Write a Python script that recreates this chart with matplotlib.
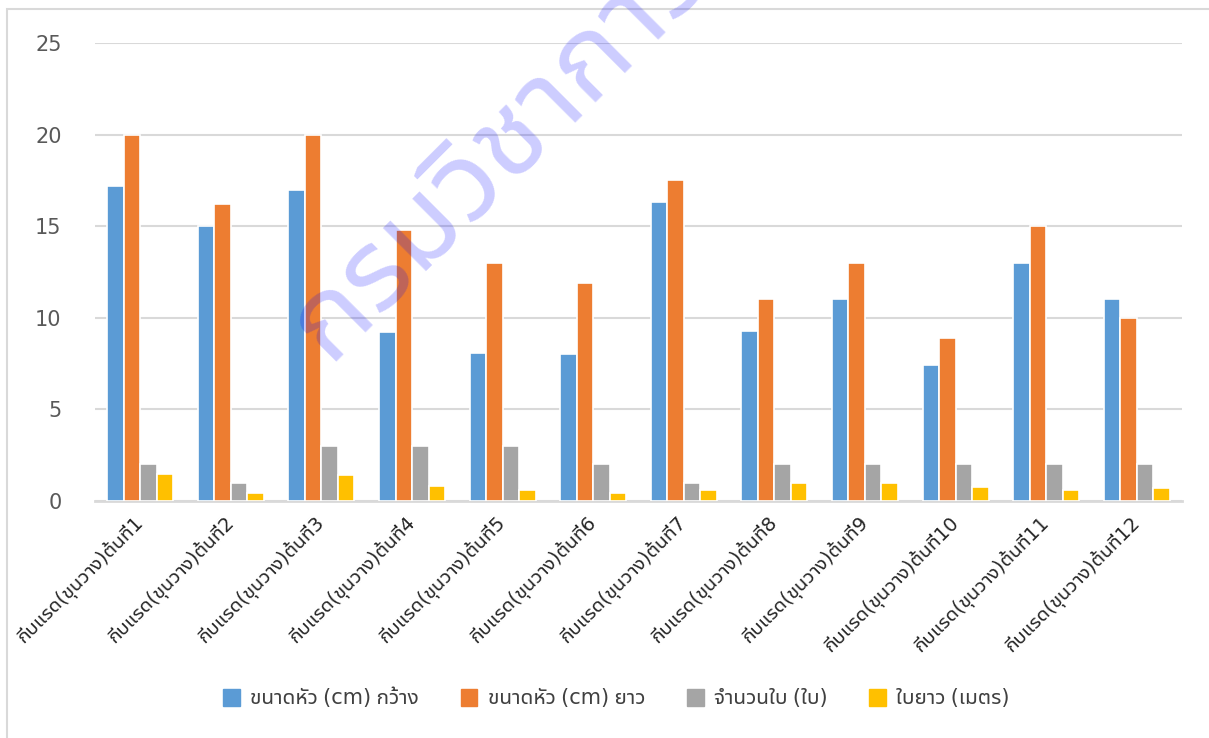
import matplotlib
matplotlib.use('Agg')
import matplotlib.pyplot as plt
import numpy as np
from matplotlib import font_manager
from matplotlib.ft2font import FT2Font
from matplotlib.patches import Rectangle, Patch

categories = ['กีบแรด(ขุนวาง)ต้นที่%d' % i for i in range(1, 13)]
series = ['ขนาดหัว (cm) กว้าง', 'ขนาดหัว (cm) ยาว', 'จำนวนใบ (ใบ)', 'ใบยาว (เมตร)']
width_cm = [17.2, 15, 17, 9.2, 8.1, 8, 16.3, 9.3, 11, 7.4, 13, 11]
length_cm = [20, 16.2, 20, 14.8, 13, 11.9, 17.5, 11, 13, 8.9, 15, 10]
leaves = [2, 1, 3, 3, 3, 2, 1, 2, 2, 2, 2, 2]
leaf_len = [1.5, 0.45, 1.4, 0.8, 0.6, 0.42, 0.6, 1.0, 1.0, 0.75, 0.6, 0.7]
colors = ['#5b9bd5', '#ed7d31', '#a5a5a5', '#ffc000']
watermark = 'กรมวิชาการเกษตร'


# find an installed font that has Thai glyphs (prefer loopless UI faces)
names = {f.name for f in font_manager.fontManager.ttflist}
thai = None
for n in ['Leelawadee UI', 'Noto Sans Thai UI', 'Noto Sans Thai', 'Sarabun', 'Kanit', 'Prompt']:
    if n in names:
        thai = n
        break
if thai is None:
    for f in font_manager.fontManager.ttflist:
        try:
            if FT2Font(f.fname).get_char_index(ord('ก')):
                thai = f.name
                break
        except Exception:
            pass
plt.rcParams['font.family'] = ([thai] if thai else []) + ['DejaVu Sans']

fig = plt.figure(figsize=(12.09, 7.38), dpi=100)
ax = fig.add_axes([95/1209, 1-501/738, 1087/1209, 458/738])

x = np.arange(len(categories))
data = [width_cm, length_cm, leaves, leaf_len]
step = 0.182
for i, vals in enumerate(data):
    ax.bar(x + (i - 1.5)*step, vals, width=step, color=colors[i],
           edgecolor='white', linewidth=1.2, zorder=3)

ax.set_xlim(-0.5, len(categories) - 0.5)
ax.set_ylim(0, 25)
ax.set_yticks([0, 5, 10, 15, 20, 25])
ax.grid(axis='y', color='#d9d9d9', linewidth=1.5, zorder=0)
for s in ['top', 'right', 'left']:
    ax.spines[s].set_visible(False)
ax.spines['bottom'].set_color('#d9d9d9')
ax.spines['bottom'].set_linewidth(2)
ax.tick_params(length=0)
ax.tick_params(axis='y', labelsize=15, labelcolor='#595959', pad=24)
ax.set_xticks(x - 0.08)
ax.set_xticklabels(categories, rotation=45, ha='right', va='top',
                   rotation_mode='anchor', fontsize=14, color='#262626')
ax.tick_params(axis='x', pad=8)

handles = [Patch(color=c) for c in colors]
fig.legend(handles, series, loc='center', bbox_to_anchor=(0.51, 0.054), ncol=4,
           frameon=False, fontsize=15, handlelength=0.8, handleheight=0.9,
           handletextpad=0.5, columnspacing=2.0, labelcolor='#404040')

fig.patches.append(Rectangle((7/1209, -0.1), 1.1, 1 - 9/738 + 0.1,
                             transform=fig.transFigure, fill=False,
                             edgecolor='#d9d9d9', linewidth=1.5))

fig.text(328/1209, 1-362/738, watermark, rotation=45, rotation_mode='anchor',
         ha='left', va='baseline', fontsize=84, color='blue', alpha=0.2,
         zorder=10, clip_on=True)

plt.savefig('out.png', dpi=100)
